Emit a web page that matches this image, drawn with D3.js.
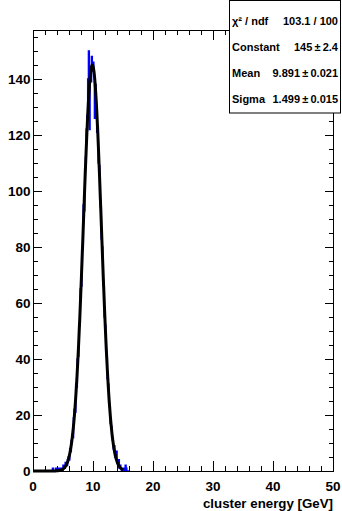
<!DOCTYPE html>
<html>
    <head>
        <meta charset="utf-8">
        <script src="https://cdn.jsdelivr.net/npm/d3@7/dist/d3.min.js"></script>
        <style>
            body { margin: 0; background: white; }
            text { font-family: "Liberation Sans", Arial, Helvetica, sans-serif; font-weight: bold; }
        </style>
        <script>
            // histogram: cluster energy, bins of 0.125 GeV starting at 3.0 GeV
            var binStart = 3.0;
            var binWidth = 0.125;
            var counts = [0, 0, 1, 0, 0, 0, 1, 0, 0, 1, 0, 0, 1, 0, 1, 0,
                          2, 1, 1, 3, 2, 2, 4, 5, 4, 8, 7, 11, 13, 12, 19, 22,
                          21, 31, 30, 40, 41, 52, 53, 65, 66, 79, 80, 95, 93, 108, 112, 122,
                          127, 140, 150, 122, 144, 139, 148, 143, 146, 141, 126, 138, 129, 121, 123, 110,
                          109, 97, 94, 83, 80, 68, 66, 55, 52, 43, 41, 33, 31, 24, 23, 17,
                          16, 12, 11, 8, 9, 5, 6, 7, 3, 2, 4, 1, 2, 1, 0, 1,
                          0, 1, 0, 2, 1, 0, 0, 0];

            // gaus fit result: constant, mean, sigma
            var fitPars = [145, 9.891, 1.499];
            var fitRange = [0, 15];

            var xTicks = [0, 10, 20, 30, 40, 50];
            var yTicks = [0, 20, 40, 60, 80, 100, 120, 140];

            var statNames = ["\u03C7\u00B2 / ndf", "Constant", "Mean", "Sigma"];
            var statValues = ["103.1 / 100", "145\u2009\u00B1\u20092.4", "9.891\u2009\u00B1\u20090.021", "1.499\u2009\u00B1\u20090.015"];

            function makeSVG() {
                var svg = d3.select("#fig");
                var left = 33, right = 333, top = 30, bottom = 471;

                var x = d3.scaleLinear().domain([0, 50]).range([left, right]);
                var y = d3.scaleLinear().domain([0, 157.5]).range([bottom, top]);

                // histogram as step line
                var pts = counts.map((c, i) => [binStart + i * binWidth, c]);
                pts.push([binStart + counts.length * binWidth, counts[counts.length - 1]]);
                svg.append("path")
                   .attr("d", d3.line().x(d => x(d[0])).y(d => y(d[1])).curve(d3.curveStepAfter)(pts))
                   .attr("fill", "none")
                   .attr("stroke", "#0000ff")
                   .attr("stroke-width", 1.6);

                // fit function
                var gaus = v => fitPars[0] * Math.exp(-0.5 * Math.pow((v - fitPars[1]) / fitPars[2], 2));
                var fpts = d3.range(fitRange[0], fitRange[1] + 0.001, 0.05).map(v => [v, gaus(v)]);
                svg.append("path")
                   .attr("d", d3.line().x(d => x(d[0])).y(d => y(d[1]))(fpts))
                   .attr("fill", "none")
                   .attr("stroke", "black")
                   .attr("stroke-width", 3)
                   .attr("stroke-linejoin", "round");

                // frame
                svg.append("rect")
                   .attr("x", left + 0.5).attr("y", top + 0.5)
                   .attr("width", right - left).attr("height", bottom - top)
                   .attr("fill", "none").attr("stroke", "black").attr("stroke-width", 1);

                // tick marks as small filled rects, pointing into the frame on all sides
                var xMinor = d3.range(0, 50.01, 2);
                var yMinor = d3.range(0, 157, 5);
                var xt = xMinor.map(v => ({v: v, len: xTicks.includes(v) ? 10 : 5}));
                var yt = yMinor.map(v => ({v: v, len: yTicks.includes(v) ? 9 : 5}));
                var tk = svg.append("g").attr("fill", "black");
                tk.selectAll(null).data(xt).enter().append("rect")
                  .attr("x", d => Math.round(x(d.v))).attr("y", d => bottom - d.len)
                  .attr("width", 1).attr("height", d => d.len);
                tk.selectAll(null).data(xt).enter().append("rect")
                  .attr("x", d => Math.round(x(d.v))).attr("y", top)
                  .attr("width", 1).attr("height", d => d.len);
                tk.selectAll(null).data(yt).enter().append("rect")
                  .attr("x", left).attr("y", d => Math.round(y(d.v)))
                  .attr("width", d => d.len).attr("height", 1);
                tk.selectAll(null).data(yt).enter().append("rect")
                  .attr("x", d => right + 1 - d.len).attr("y", d => Math.round(y(d.v)))
                  .attr("width", d => d.len).attr("height", 1);

                // tick labels
                svg.selectAll(".xl").data(xTicks).enter().append("text")
                   .attr("x", d => x(d)).attr("y", 491)
                   .attr("text-anchor", "middle")
                   .style("font-size", "13.5px")
                   .text(d3.format("d"));
                svg.selectAll(".ylab").data(yTicks).enter().append("text")
                   .attr("x", 30.5).attr("y", d => y(d) + 5)
                   .attr("text-anchor", "end")
                   .style("font-size", "13.5px")
                   .text(d3.format("d"));

                svg.append("text")
                   .attr("x", right).attr("y", 508)
                   .attr("text-anchor", "end")
                   .style("font-size", "13.3px")
                   .text("cluster energy [GeV]");

                // stats box
                var sb = svg.append("g");
                sb.append("rect")
                  .attr("x", 229.5).attr("y", 0.5)
                  .attr("width", 111).attr("height", 112.5)
                  .attr("fill", "white").attr("stroke", "black").attr("stroke-width", 1);
                var rowY = [20.5, 47, 73, 99];
                sb.selectAll(".sname").data(statNames).enter().append("text")
                  .attr("x", 232)
                  .attr("y", (d, i) => rowY[i] + 4)
                  .style("font-size", "11px")
                  .text(d => d);
                sb.selectAll(".sval").data(statValues).enter().append("text")
                  .attr("x", 338)
                  .attr("y", (d, i) => rowY[i] + 4)
                  .attr("text-anchor", "end")
                  .style("font-size", "11px")
                  .text(d => d);
            }
        </script>
    </head>
    <body onload="makeSVG()">
        <svg id="fig" width="342" height="511"></svg>
    </body>
</html>
